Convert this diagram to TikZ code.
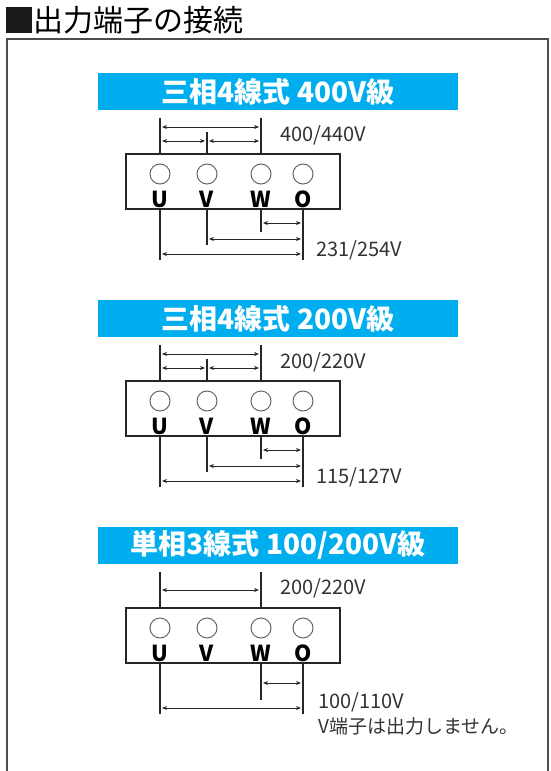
\documentclass[tikz,border=0pt]{standalone}
\usepackage{fontspec}
\setmainfont{Noto Sans CJK JP}
\usetikzlibrary{
		arrows.meta,
		positioning
	}
\definecolor{bannerblue}{RGB}{0,174,239}
\tikzset{
		>={Stealth[length=5pt,width=4pt]}
	}
\tikzset{
		wire/.style={draw=black!85, line width=1.1pt},
		dim/.style={<->, draw=black!85, line width=0.9pt, shorten <=2pt, shorten >=2pt},
		volt/.style={anchor=west, inner sep=0pt, text=black!80, font=\fontsize{20}{20}\selectfont},
		banner/.style={fill=bannerblue, minimum width=360pt, minimum height=37pt, inner sep=0pt, text=white, font=\fontsize{28}{28}\selectfont\bfseries},
		pics/terminals/.style={code={
			\node[draw=black!85, line width=1.1pt, minimum width=214pt, minimum height=55pt, inner sep=0pt] (-box) at (233,181.5) {};
			\foreach \nm/\lt/\xx in {u/U/160, v/V/207, w/W/261, o/O/303}{
				\node[circle, draw=black!60, line width=1pt, minimum size=20pt, inner sep=0pt] (-\nm) at (\xx,174) {};
				\node[inner sep=0pt, font=\fontsize{22}{22}\selectfont\bfseries] (-lt\nm) at (\xx,199) {\lt};
			}
			\coordinate (-top-u) at (160,118);
			\coordinate (-top-v) at (207,132);
			\coordinate (-top-w) at (261,118);
			\coordinate (-bot-u) at (160,260);
			\coordinate (-bot-v) at (207,245);
			\coordinate (-bot-w) at (261,#1);
			\coordinate (-bot-o) at (303,260);
		}}
	}
\begin{document}
\begin{tikzpicture}[x=1pt, y=-1pt] % one unit = one pixel of the layout, y grows downwards
		\useasboundingbox (0,0) rectangle (550,771);
		% heading and frame
		\fill[black!90] (6,7) rectangle (32,33);
		\node[anchor=west, inner sep=0pt, font=\fontsize{30}{30}\selectfont] (title) at (33,20) {出力端子の接続};
		\draw[black!70, line width=1.6pt] (7,771) -- (7,39) -- (548,39) -- (548,771);

		% three-phase 4-wire, 400V class
		\node[banner] (ban1) at (278,91.5) {三相4線式 400V級};
		\pic (p1) {terminals=232};
		\foreach \nm in {u,v,w} \draw[wire] (p1-top-\nm) -- (p1-\nm |- p1-box.north);
		\foreach \nm in {u,v,w,o} \draw[wire] (p1-bot-\nm) -- (p1-\nm |- p1-box.south);
		\draw[dim] (p1-top-u |- 0,127) -- (p1-top-w |- 0,127);
		\draw[dim] (p1-top-u |- 0,141) -- (p1-top-v |- 0,141);
		\draw[dim] (p1-top-v |- 0,141) -- (p1-top-w |- 0,141);
		\draw[dim] (p1-bot-w |- 0,223) -- (p1-bot-o |- 0,223);
		\draw[dim] (p1-bot-v |- 0,239) -- (p1-bot-o |- 0,239);
		\draw[dim] (p1-bot-u |- 0,254) -- (p1-bot-o |- 0,254);
		\node[volt] (hi1) at (280,135) {400/440V};
		\node[volt] (lo1) at (316,250) {231/254V};

		% three-phase 4-wire, 200V class
		\begin{scope}[shift={(0,227)}]
		\node[banner] (ban2) at (278,91.5) {三相4線式 200V級};
		\pic (p2) {terminals=232};
		\foreach \nm in {u,v,w} \draw[wire] (p2-top-\nm) -- (p2-\nm |- p2-box.north);
		\foreach \nm in {u,v,w,o} \draw[wire] (p2-bot-\nm) -- (p2-\nm |- p2-box.south);
		\draw[dim] (p2-top-u |- 0,127) -- (p2-top-w |- 0,127);
		\draw[dim] (p2-top-u |- 0,141) -- (p2-top-v |- 0,141);
		\draw[dim] (p2-top-v |- 0,141) -- (p2-top-w |- 0,141);
		\draw[dim] (p2-bot-w |- 0,223) -- (p2-bot-o |- 0,223);
		\draw[dim] (p2-bot-v |- 0,239) -- (p2-bot-o |- 0,239);
		\draw[dim] (p2-bot-u |- 0,254) -- (p2-bot-o |- 0,254);
		\node[volt] (hi2) at (280,135) {200/220V};
		\node[volt] (lo2) at (316,250) {115/127V};
		\end{scope}

		% single-phase 3-wire, 100/200V class
		\begin{scope}[shift={(0,454)}]
		\node[banner] (ban3) at (278,91.5) {単相3線式 100/200V級};
		\pic (p3) {terminals=246};
		\foreach \nm in {u,w} \draw[wire] (p3-top-\nm) -- (p3-\nm |- p3-box.north);
		\foreach \nm in {u,w,o} \draw[wire] (p3-bot-\nm) -- (p3-\nm |- p3-box.south);
		\draw[dim] (p3-top-u |- 0,136) -- (p3-top-w |- 0,136);
		\draw[dim] (p3-bot-w |- 0,229) -- (p3-bot-o |- 0,229);
		\draw[dim] (p3-bot-u |- 0,254) -- (p3-bot-o |- 0,254);
		\node[volt] (hi3) at (280,134) {200/220V};
		\node[volt] (lo3) at (318,248) {100/110V};
		\node[volt, below=5pt of lo3.south west, anchor=north west, font=\fontsize{19}{19}\selectfont] (note) {V端子は出力しません。};
		\end{scope}
\end{tikzpicture}
\end{document}
